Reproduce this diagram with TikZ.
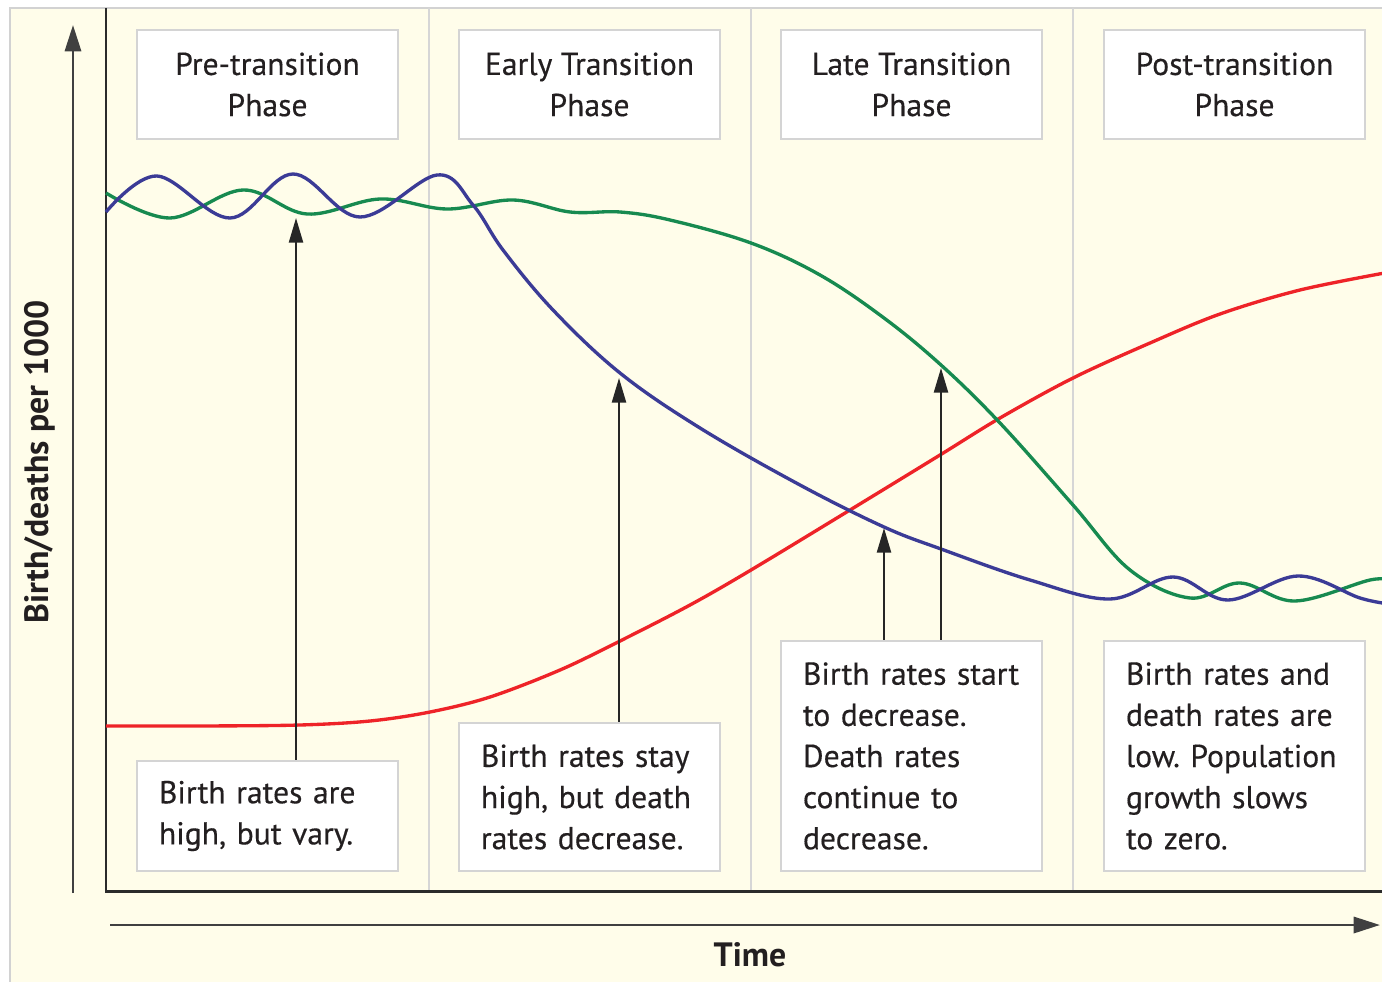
\documentclass[tikz,border=0pt]{standalone}
\usepackage{fontspec}
\setmainfont{PT Sans}
\newfontfamily\medfont[FakeBold=0.35]{PT Sans}
\usetikzlibrary{arrows.meta}
\definecolor{cream}{HTML}{FFFDEA}
\definecolor{framec}{HTML}{D2D2D2}
\definecolor{sepc}{HTML}{D6D6D6}
\definecolor{axisc}{HTML}{2B2B2B}
\definecolor{textc}{HTML}{231F20}
\definecolor{bluec}{HTML}{3B3B96}
\definecolor{greenc}{HTML}{178A50}
\definecolor{redc}{HTML}{EE2328}
\definecolor{boxc}{HTML}{D4D4D4}
\newcommand{\boxfont}{\medfont\fontsize{9.0}{11.7}\selectfont}
\newcommand{\labfont}{\bfseries\fontsize{9.6}{11}\selectfont}
\tikzset{
  hdr/.style={draw=boxc, line width=0.6pt, fill=white, minimum width=2.61cm, minimum height=1.09cm, align=center, font=\boxfont, text=textc, inner sep=0pt},
  note/.style={draw=boxc, line width=0.6pt, fill=white, text width=2.17cm, inner xsep=0.22cm, inner ysep=0pt, align=left, font=\boxfont, text=textc},
  pointer/.style={draw=black!85, line width=0.6pt, -{Triangle[length=7pt,width=4pt]}},
  axisarrow/.style={draw=axisc!90, line width=0.8pt, -{Triangle[length=7.5pt,width=4.6pt]}},
  rate/.style={line width=0.95pt},
}
\begin{document}
\begin{tikzpicture}[x=0.01cm,y=-0.01cm]
\useasboundingbox (0,0) rectangle (1382,982);
\clip (0,0) rectangle (1382,982);
\fill[white] (0,0) rectangle (1382,982);
\draw[framec, fill=cream, line width=0.6pt] (10,8) rectangle (1400,1000);
% phase separators
\foreach \x in {429,751,1073} \draw[sepc, line width=0.55pt] (\x,8) -- (\x,891);
% plot frame
\draw[axisc, line width=0.85pt] (106,8) -- (106,891) -- (1390,891);
% axes arrows
\coordinate (ybot) at (73,893);
\coordinate (ytop) at (73,25);
\draw[axisarrow] (ybot) -- (ytop);
\coordinate (xl) at (110,925);
\coordinate (xr) at (1380,925);
\draw[axisarrow] (xl) -- (xr);
\node[rotate=90, font=\labfont, text=textc] (ylab) at (40,462) {Birth/deaths per 1000};
\node[font=\labfont, text=textc] (time) at (750,955) {Time};
% curves
\draw[redc, rate] plot[smooth, tension=0.55] coordinates {(106,726) (200,726) (300,725) (370,721) (430,712) (490,697) (560,670) (620,641) (690,605) (751,570) (850,510) (940,455) (1000,418) (1073,378) (1150,343) (1220,314) (1300,290) (1390,272)};
\draw[greenc, rate] plot[smooth, tension=0.6] coordinates {(106,193) (170,218) (243,190) (307,214) (380,199) (447,209) (513,200) (570,212) (620,212) (670,220) (751,243) (820,275) (884,318) (941,365) (1000,423) (1073,505) (1130,570) (1190,598) (1240,583) (1295,601) (1370,580) (1390,581)};
\draw[bluec, rate] plot[smooth, tension=0.6] coordinates {(106,212) (157,176) (230,218) (293,174) (360,217) (437,175) (473,205) (503,250) (553,310) (620,373) (700,428) (800,485) (884,527) (941,549) (1030,580) (1110,599) (1173,577) (1228,600) (1298,576) (1360,598) (1390,604)};
% header boxes
\node[hdr] (h1) at (267.5,84.5) {Pre-transition\\Phase};
\node[hdr] (h2) at (589.5,84.5) {Early Transition\\Phase};
\node[hdr] (h3) at (911.5,84.5) {Late Transition\\Phase};
\node[hdr] (h4) at (1234.5,84.5) {Post-transition\\Phase};
% note boxes
\node[note, minimum height=1.10cm] (n1) at (267.5,816) {\mbox{Birth rates are}\\\mbox{high, but vary.}};
\node[note, minimum height=1.48cm] (n2) at (589.5,797) {\mbox{Birth rates stay}\\\mbox{high, but death}\\\mbox{rates decrease.}};
\node[note, minimum height=2.30cm] (n3) at (911.5,756) {\mbox{Birth rates start}\\\mbox{to decrease.}\\\mbox{Death rates}\\\mbox{continue to}\\\mbox{decrease.}};
\node[note, minimum height=2.30cm] (n4) at (1234.5,756) {\mbox{Birth rates and}\\\mbox{death rates are}\\\mbox{low.\ Population}\\\mbox{growth slows}\\\mbox{to zero.}};
% pointers
\coordinate (t1) at (296,218);
\coordinate (t2) at (619,378);
\coordinate (t3) at (884,528);
\coordinate (t4) at (941,368);
\draw[pointer] (n1.north -| t1) -- (t1);
\draw[pointer] (n2.north -| t2) -- (t2);
\draw[pointer] (n3.north -| t3) -- (t3);
\draw[pointer] (n3.north -| t4) -- (t4);
\end{tikzpicture}
\end{document}
